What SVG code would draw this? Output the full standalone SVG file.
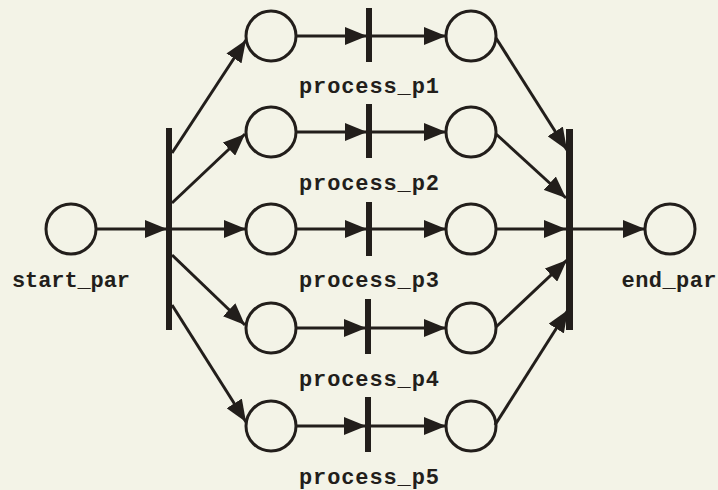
<svg xmlns="http://www.w3.org/2000/svg" width="718" height="490" viewBox="0 0 718 490">
<defs>
<marker id="ah" markerUnits="userSpaceOnUse" markerWidth="22" markerHeight="18" refX="22" refY="9" orient="auto">
<path d="M0,0 L22,9 L0,18 z" fill="#221e1b"/>
</marker>
<style>
.place{fill:none;stroke:#221e1b;stroke-width:3}
.bar{fill:#221e1b}
.arc{stroke:#221e1b;stroke-width:3;fill:none;marker-end:url(#ah)}
.lbl{font-family:"Liberation Mono","Courier New",monospace;font-weight:bold;font-size:22px;fill:#221e1b;text-anchor:middle}
</style>
</defs>
<rect x="0" y="0" width="718" height="490" fill="#f3f3e7"/>

<g id="start_par"><circle class="place" cx="71" cy="229" r="25"/><text class="lbl" x="71" y="287" textLength="118" lengthAdjust="spacing">start_par</text></g>
<g id="fork"><rect class="bar" x="166" y="128" width="6" height="202"/></g>

<g id="p1_in"><circle class="place" cx="271" cy="36" r="25"/></g>
<g id="p2_in"><circle class="place" cx="271" cy="132" r="25"/></g>
<g id="p3_in"><circle class="place" cx="271" cy="229" r="25"/></g>
<g id="p4_in"><circle class="place" cx="271" cy="328" r="25"/></g>
<g id="p5_in"><circle class="place" cx="271" cy="426" r="25"/></g>

<g id="process_p1"><rect class="bar" x="366" y="8" width="6" height="54"/><text class="lbl" x="369" y="93" textLength="140" lengthAdjust="spacing">process_p1</text></g>
<g id="process_p2"><rect class="bar" x="366" y="104" width="6" height="54"/><text class="lbl" x="369" y="190" textLength="140" lengthAdjust="spacing">process_p2</text></g>
<g id="process_p3"><rect class="bar" x="366" y="202" width="6" height="54"/><text class="lbl" x="369" y="287" textLength="140" lengthAdjust="spacing">process_p3</text></g>
<g id="process_p4"><rect class="bar" x="365" y="299" width="6" height="55"/><text class="lbl" x="369" y="386" textLength="140" lengthAdjust="spacing">process_p4</text></g>
<g id="process_p5"><rect class="bar" x="365" y="397" width="6" height="55"/><text class="lbl" x="369" y="484" textLength="140" lengthAdjust="spacing">process_p5</text></g>

<g id="p1_out"><circle class="place" cx="471" cy="36" r="25"/></g>
<g id="p2_out"><circle class="place" cx="471" cy="132" r="25"/></g>
<g id="p3_out"><circle class="place" cx="471" cy="229" r="25"/></g>
<g id="p4_out"><circle class="place" cx="471" cy="328" r="25"/></g>
<g id="p5_out"><circle class="place" cx="471" cy="426" r="25"/></g>

<g id="join"><rect class="bar" x="566" y="129" width="7" height="201"/></g>
<g id="end_par"><circle class="place" cx="670" cy="229" r="25"/><text class="lbl" x="669" y="287" textLength="95" lengthAdjust="spacing">end_par</text></g>

<g id="connectors">
<line class="arc" x1="96" y1="229" x2="167" y2="229"/>
<line class="arc" x1="172" y1="153" x2="246" y2="40"/>
<line class="arc" x1="172" y1="203" x2="245" y2="134"/>
<line class="arc" x1="172" y1="229" x2="246" y2="229"/>
<line class="arc" x1="172" y1="255" x2="245" y2="325"/>
<line class="arc" x1="172" y1="305" x2="246" y2="422"/>

<line class="arc" x1="296" y1="36" x2="367" y2="36"/>
<line class="arc" x1="372" y1="36" x2="446" y2="36"/>
<line class="arc" x1="296" y1="132" x2="367" y2="132"/>
<line class="arc" x1="372" y1="132" x2="446" y2="132"/>
<line class="arc" x1="296" y1="229" x2="367" y2="229"/>
<line class="arc" x1="372" y1="229" x2="446" y2="229"/>
<line class="arc" x1="296" y1="328" x2="366" y2="328"/>
<line class="arc" x1="371" y1="328" x2="446" y2="328"/>
<line class="arc" x1="296" y1="426" x2="366" y2="426"/>
<line class="arc" x1="371" y1="426" x2="446" y2="426"/>

<line class="arc" x1="496" y1="38" x2="567" y2="150"/>
<line class="arc" x1="496" y1="134" x2="566" y2="198"/>
<line class="arc" x1="496" y1="229" x2="566" y2="229"/>
<line class="arc" x1="496" y1="327" x2="567" y2="260"/>
<line class="arc" x1="495" y1="425" x2="568" y2="310"/>
<line class="arc" x1="573" y1="229" x2="645" y2="229"/>
</g>
</svg>
